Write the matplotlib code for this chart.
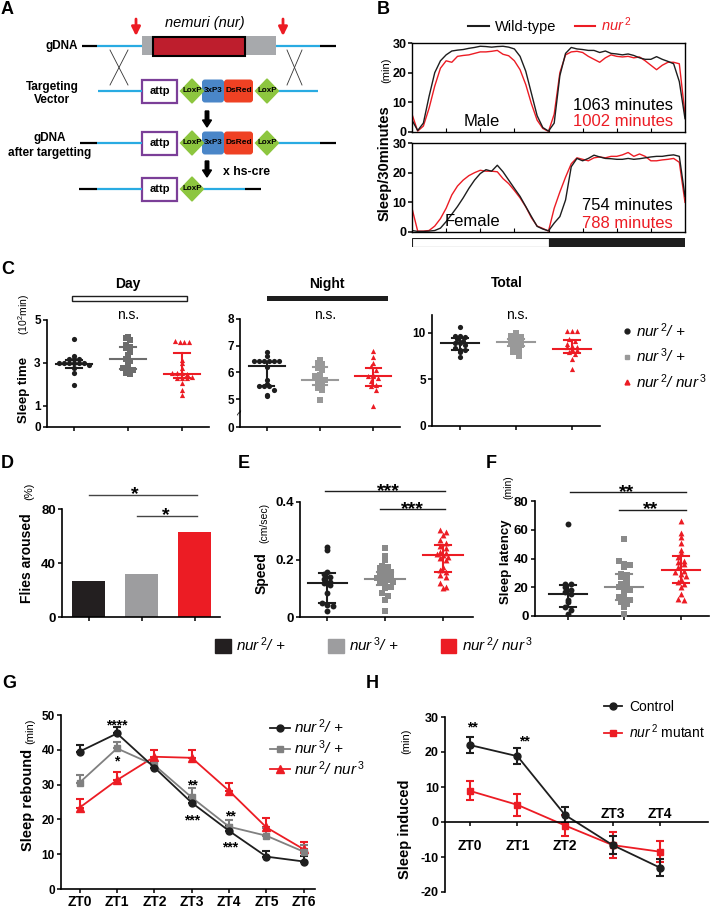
import matplotlib
matplotlib.use("Agg")
import matplotlib.pyplot as plt
from matplotlib.patches import Rectangle, Polygon, FancyBboxPatch, FancyArrow, Patch
from matplotlib.lines import Line2D
import numpy as np

plt.rcParams['font.family'] = ['Liberation Sans', 'DejaVu Sans']
plt.rcParams['mathtext.fontset'] = 'custom'
plt.rcParams['mathtext.rm'] = 'Liberation Sans'
plt.rcParams['mathtext.it'] = 'Liberation Sans:italic'
plt.rcParams['mathtext.bf'] = 'Liberation Sans:bold'
plt.rcParams['axes.linewidth'] = 1.2

W, H = 711, 908
BLACK = '#1e1e1e'
RED = '#ec1c24'
GREY_DARK = '#6d6d6d'
GREY = '#999999'

# ---------------- data ----------------
# B: sleep per 30 min, sampled every half hour over the 24 h day
hours = np.linspace(0, 24, 49)
male_wt = [4, 0.5, 3, 12, 20, 24, 26, 27.3, 27.6, 27.8, 28.2, 28.5, 28.9, 28.8, 28.6, 28.8,
           28.9, 28.6, 28, 25.5, 20.5, 13, 5.5, 1.5, 0.3, 3, 19, 26.5, 28.5, 28, 27.8, 27.5,
           27.5, 26.8, 27.3, 26.5, 26.3, 26, 26.3, 25.8, 25, 24.5, 24.5, 25.4, 24.5, 23.8,
           23, 17, 4.5]
male_nur2 = [6, 0.3, 2, 8, 15.5, 21.5, 24, 23.5, 25.5, 25.8, 26, 26.5, 27, 27, 27.2, 27.5,
             26.2, 25.7, 24, 21, 16, 9.5, 4, 1.2, 0.2, 6, 20, 26, 27, 27.2, 26.8, 25.5, 24.5,
             23.5, 25, 26, 25.5, 25.3, 25.5, 25, 25.3, 24, 22.5, 21, 22.5, 23.5, 23.5, 23, 6]
female_wt = [0.5, 0.2, 0.2, 0.3, 0.5, 1.3, 3.5, 6, 8.6, 11.5, 14.7, 17.5, 19.7, 21, 20.5,
             22.5, 20.3, 17.5, 14.7, 12, 8.6, 5.2, 1.9, 1, 0.4, 3, 5.2, 10.8, 22, 24.8, 24,
             24.8, 25.9, 25.3, 24.8, 24.7, 24.5, 24.5, 24.8, 24.5, 24.7, 25, 25.3, 25.5, 25.5,
             25.8, 26, 25.5, 12]
female_nur2 = [8, 0.3, 0.3, 0.5, 2, 4.5, 8, 12.5, 15.5, 17.5, 19, 20, 20.8, 20.5, 20.5, 20.3,
               18, 16.3, 14, 11.5, 8.5, 4.8, 2, 1.2, 0.3, 8, 13.5, 18.5, 23, 25, 24.5, 24, 25,
               25.3, 25, 25.5, 25.5, 26, 26.8, 25.5, 26.3, 25.5, 24, 24, 24.3, 24.5, 24.8,
               23.5, 10]
phase_start = [0, 12]
phase_len = [12, 12]

# C: sleep time (10^2 min)
day_nur2 = [4.13, 3.31, 3.17, 3.17, 3.17, 2.97, 2.97, 2.97, 2.97, 2.97, 2.97, 2.92, 2.74, 2.5, 1.96]
day_nur3 = [4.21, 4.14, 4.06, 3.82, 3.75, 3.67, 3.51, 3.36, 3.2, 3.08, 2.89, 2.74, 2.7, 2.66, 2.5, 2.46]
day_nur23 = [4.0, 3.95, 3.95, 3.95, 3.15, 2.97, 2.74, 2.5, 2.5, 2.5, 2.47, 2.35, 2.3, 2.27,
             2.27, 2.04, 1.72, 1.49]
day_med = [2.95, 3.17, 2.47]
day_lo = [2.74, 2.72, 2.27]
day_hi = [3.12, 3.72, 3.47]

night_nur2 = [6.76, 6.63, 6.41, 6.41, 6.41, 6.41, 6.41, 6.41, 6.2, 5.73, 5.55, 5.5, 5.5, 5.48,
              5.35, 5.16, 5.1]
night_nur3 = [6.48, 6.35, 6.3, 6.16, 6.1, 5.91, 5.85, 5.75, 5.73, 5.62, 5.54, 5.41, 5.35, 4.98]
night_nur23 = [6.79, 6.58, 6.35, 6.23, 6.1, 5.91, 5.88, 5.85, 5.8, 5.66, 5.54, 5.48, 5.35, 4.73]
night_med = [6.23, 5.73, 5.88]
night_lo = [5.48, 5.54, 5.5]
night_hi = [6.38, 6.2, 6.16]

total_nur2 = [10.6, 9.7, 9.65, 9.5, 9.3, 9.15, 8.9, 8.85, 8.65, 8.4, 8.15, 8.1, 7.95, 7.36]
total_nur3 = [10.0, 9.7, 9.65, 9.5, 9.35, 9.15, 9.05, 8.95, 8.85, 8.65, 8.45, 8.1, 7.9, 7.5]
total_nur23 = [10.2, 10.2, 10.2, 9.3, 9.1, 8.8, 8.6, 8.5, 8.45, 8.25, 8.1, 7.9, 7.7, 7.2, 6.06]
total_med = [8.94, 9.0, 8.3]
total_lo = [8.17, 8.6, 7.8]
total_hi = [9.47, 9.3, 9.2]

# D: flies aroused (%)
aroused = [27, 31.5, 63]

# E: speed (cm/sec)
speed_nur2 = [0.244, 0.233, 0.158, 0.15, 0.14, 0.132, 0.123, 0.117, 0.112, 0.083, 0.048,
              0.043, 0.037, 0.02]
speed_nur3 = [0.241, 0.212, 0.198, 0.178, 0.175, 0.169, 0.163, 0.158, 0.152, 0.146, 0.14,
              0.135, 0.132, 0.129, 0.123, 0.117, 0.112, 0.106, 0.1, 0.083, 0.072, 0.06, 0.02]
speed_nur23 = [0.304, 0.296, 0.285, 0.267, 0.256, 0.247, 0.239, 0.227, 0.221, 0.218, 0.216,
               0.21, 0.204, 0.198, 0.175, 0.164, 0.158, 0.146, 0.14, 0.118, 0.106, 0.1]
speed_med = [0.12, 0.133, 0.216]
speed_lo = [0.048, 0.112, 0.158]
speed_hi = [0.152, 0.158, 0.25]

# F: sleep latency (min)
lat_nur2 = [64, 22.6, 22, 20, 18, 16.8, 15.6, 11, 9.8, 6.3, 4.4, 1.6]
lat_nur3 = [53.5, 38.4, 36.5, 35.4, 34.2, 29.5, 28.4, 27.2, 24.9, 22.6, 21.4, 20.2, 19.1,
            17.9, 15.6, 13.3, 12.1, 10.9, 9.8, 8.6, 6.3, 1.6]
lat_nur23 = [66, 57.5, 55, 51, 45.8, 43.5, 41, 38.6, 37.4, 36.3, 34, 31.6, 30.5, 29.3, 28.1,
             25.8, 23.5, 22.3, 20, 15.6, 12, 11]
lat_med = [15.6, 20.2, 31.9]
lat_lo = [6.3, 10.9, 23]
lat_hi = [21.9, 29.5, 41.6]

# G: sleep rebound (min), mean and SEM
zt_g = ['ZT0', 'ZT1', 'ZT2', 'ZT3', 'ZT4', 'ZT5', 'ZT6']
reb_nur2 = [39.5, 44.7, 34.9, 24.8, 16.7, 9.3, 7.9]
reb_nur2_err = [1.9, 1.8, 1.5, 1.7, 1.7, 1.6, 1.7]
reb_nur3 = [30.6, 40.4, 35.6, 26.3, 17.9, 15.3, 10.7]
reb_nur3_err = [2.2, 1.9, 1.6, 2.6, 1.9, 2.1, 1.9]
reb_nur23 = [23.4, 31.3, 38.0, 37.7, 28.2, 17.7, 11.4]
reb_nur23_err = [2.4, 2.4, 1.9, 2.2, 2.2, 2.6, 2.2]

# H: sleep induced (min), mean and SEM
zt_h = ['ZT0', 'ZT1', 'ZT2', 'ZT3', 'ZT4']
ind_ctrl = [22.0, 18.8, 2.0, -6.6, -13.1]
ind_ctrl_err = [2.4, 2.3, 2.4, 2.6, 2.4]
ind_mut = [8.9, 4.9, -1.0, -6.6, -8.5]
ind_mut_err = [2.7, 3.2, 3.0, 3.8, 3.0]

# ---------------- figure ----------------
fig = plt.figure(figsize=(W / 100, H / 100), dpi=100)


def px_axes(x0, y0, x1, y1):
    return fig.add_axes([x0 / W, 1 - y1 / H, (x1 - x0) / W, (y1 - y0) / H])


def clean(ax, fs=9):
    ax.spines['top'].set_visible(False)
    ax.spines['right'].set_visible(False)
    ax.tick_params(width=1.1, length=3, labelsize=fs, pad=1.5)
    ax.patch.set_alpha(0)


def swarm_offsets(vals, ystep, dx):
    vals = np.asarray(vals, dtype=float)
    bins = np.floor(vals / ystep)
    out = np.zeros(len(vals))
    for b in np.unique(bins):
        idx = np.where(bins == b)[0]
        n = len(idx)
        out[idx] = (np.arange(n) - (n - 1) / 2) * dx
    return out


def dot_panel(ax, groups, med, lo, hi, colors, ystep, dx, ms=14):
    markers = ['o', 's', '^']
    for i, vals in enumerate(groups):
        c = colors[i]
        xs = i + swarm_offsets(vals, ystep, dx)
        ax.scatter(xs, vals, s=ms, c=c, marker=markers[i], linewidths=0, zorder=3)
        ax.plot([i - 0.34, i + 0.34], [med[i], med[i]], color=c, lw=1.5, zorder=4)
        ax.plot([i, i], [lo[i], hi[i]], color=c, lw=1.5, zorder=4)
        for v in (lo[i], hi[i]):
            ax.plot([i - 0.14, i + 0.14], [v, v], color=c, lw=1.5, zorder=4)
    ax.set_xticks([0, 1, 2])
    ax.set_xticklabels([])


# overlay for diagram, labels and annotations (pixel coordinates)
ov = fig.add_axes([0, 0, 1, 1])
ov.set_xlim(0, W)
ov.set_ylim(H, 0)
ov.axis('off')
ov.set_zorder(10)


def label(x, y, s, **kw):
    ov.text(x, y, s, **kw)


def stars(x, yc, s, size):
    em = size * 100 / 72
    ov.text(x, yc + 0.58 * em, s, ha='center', va='baseline', fontsize=size, fontweight='bold')


for letter, x, y in [('A', 1, 10), ('B', 377, 9), ('C', 1, 270), ('D', 1, 463), ('E', 238, 463),
                     ('F', 486, 463), ('G', 2, 684), ('H', 366, 684)]:
    label(x, y, letter, fontsize=13, fontweight='bold', ha='left', va='center')

# ---------------- A: targeting diagram ----------------
BLUE_LINE = '#29abe2'
PURPLE = '#7b3f98'
GREEN = '#8dc63f'
BOX_BLUE = '#4a86c8'
BOX_RED = '#ef4123'


def seg(x0, x1, y, color):
    ov.plot([x0, x1], [y, y], color=color, lw=1.6, solid_capstyle='butt')


def attp(y):
    ov.add_patch(Rectangle((142, y - 11.5), 35, 23, facecolor='white', edgecolor=PURPLE, lw=1.6))
    ov.text(159.5, y, 'attp', fontsize=8, fontweight='bold', ha='center', va='center')


def loxp(xc, y):
    ov.add_patch(Polygon([[xc - 11.5, y], [xc, y - 12], [xc + 11.5, y], [xc, y + 12]],
                         closed=True, color=GREEN, zorder=3))
    ov.text(xc, y, 'LoxP', fontsize=5.8, fontweight='bold', ha='center', va='center', zorder=4)


def cassette(y):
    ov.add_patch(FancyBboxPatch((202, y - 11.5), 22, 23, boxstyle='round,pad=0,rounding_size=3',
                                facecolor=BOX_BLUE, edgecolor='none'))
    ov.add_patch(FancyBboxPatch((224, y - 11.5), 29, 23, boxstyle='round,pad=0,rounding_size=3',
                                facecolor=BOX_RED, edgecolor='none'))
    ov.text(213, y, '3xP3', fontsize=5.8, fontweight='bold', ha='center', va='center')
    ov.text(238.5, y, 'DsRed', fontsize=6, fontweight='bold', ha='center', va='center')


# gDNA
seg(82, 97, 46, 'black')
seg(97, 142, 46, BLUE_LINE)
ov.add_patch(Rectangle((142, 36), 134, 19, facecolor='#a7a9ac', edgecolor='none'))
ov.add_patch(Rectangle((153, 37), 92, 19, facecolor='#be1e2d', edgecolor='black', lw=1.5))
seg(276, 320, 46, BLUE_LINE)
seg(320, 336, 46, 'black')
label(78, 46, 'gDNA', fontsize=8.5, fontweight='bold', ha='right', va='center')
label(205, 23, 'nemuri (nur)', fontsize=10.5, style='italic', ha='center', va='center')
for xa in (136, 283):
    ov.annotate('', xy=(xa, 36), xytext=(xa, 19),
                arrowprops=dict(arrowstyle='-|>', color=RED, lw=2, mutation_scale=13,
                                shrinkA=0, shrinkB=0))
for xa, xb in ((110, 128), (287, 302)):
    ov.plot([xa, xb], [50, 85], color='#333333', lw=0.6)
    ov.plot([xb, xa], [50, 85], color='#333333', lw=0.6)

# targeting vector
seg(98, 142, 91, BLUE_LINE)
attp(91)
loxp(192, 91)
cassette(91)
loxp(267, 91)
seg(278, 318, 91, BLUE_LINE)
label(52, 87, 'Targeting', fontsize=8.5, fontweight='bold', ha='center', va='center')
label(52, 100, 'Vector', fontsize=8.5, fontweight='bold', ha='center', va='center')

# after targeting
seg(80, 97, 143, 'black')
seg(97, 142, 143, BLUE_LINE)
attp(143)
loxp(192, 143)
cassette(143)
loxp(267, 143)
seg(278, 320, 143, BLUE_LINE)
seg(320, 336, 143, 'black')
label(50, 138, 'gDNA', fontsize=8.5, fontweight='bold', ha='center', va='center')
label(50, 153, 'after targetting', fontsize=8.5, fontweight='bold', ha='center', va='center')

for ya in (111, 161):
    ov.add_patch(FancyArrow(207, ya, 0, 16, width=3.5, head_width=9, head_length=7,
                            length_includes_head=True, color='black'))
label(223, 172, 'x hs-cre', fontsize=8.8, fontweight='bold', ha='left', va='center')

# after cre
seg(79, 97, 189, 'black')
seg(97, 142, 189, BLUE_LINE)
attp(189)
seg(200, 245, 189, BLUE_LINE)
seg(245, 261, 189, 'black')
loxp(192, 189)

# ---------------- B: sleep profiles ----------------
ax_m = px_axes(412, 43, 685, 132)
ax_f = px_axes(412, 143, 685, 232)
for ax, wt, mut in ((ax_m, male_wt, male_nur2), (ax_f, female_wt, female_nur2)):
    ax.plot(hours, mut, color=RED, lw=1)
    ax.plot(hours, wt, color=BLACK, lw=1)
    ax.set_xlim(0, 24)
    ax.set_ylim(0, 30)
    ax.set_xticks(np.arange(3, 24, 3))
    ax.tick_params(axis='x', direction='in', length=3, labelbottom=False)
    ax.set_yticks([0, 10, 20, 30], ['0', '10', '20', '30'], fontweight='bold', fontsize=9)
    ax.tick_params(axis='y', length=3, width=1.1, pad=1)
    for sp in ax.spines.values():
        sp.set_linewidth(1)

ax_ld = px_axes(412, 238, 685, 247)
ax_ld.barh([0, 0], phase_len, left=phase_start, height=1, color=['white', BLACK],
           edgecolor=BLACK, lw=0.8)
ax_ld.set_xlim(0, 24)
ax_ld.set_ylim(-0.5, 0.5)
ax_ld.axis('off')

label(482, 122, 'Male', fontsize=12, ha='center', va='center')
label(673, 105, '1063 minutes', fontsize=12, ha='right', va='center')
label(673, 122, '1002 minutes', fontsize=12, ha='right', va='center', color=RED)
label(472, 222, 'Female', fontsize=12, ha='center', va='center')
label(673, 205, '754 minutes', fontsize=12, ha='right', va='center')
label(673, 223, '788 minutes', fontsize=12, ha='right', va='center', color=RED)
label(385, 163, 'Sleep/30minutes', fontsize=10.5, fontweight='bold', rotation=90,
      ha='center', va='center')
label(386, 70, '(min)', fontsize=8, rotation=90, ha='center', va='center')

leg_b = fig.legend(handles=[Line2D([], [], color=BLACK, lw=1.5), Line2D([], [], color=RED, lw=1.5)],
                   labels=['Wild-type', r'$\it{nur}^{\,2}$'], loc='center',
                   bbox_to_anchor=(550 / W, 1 - 25 / H), ncol=2, frameon=False, fontsize=10.5,
                   handlelength=1.4, handletextpad=0.4, columnspacing=1.3)
leg_b.get_texts()[1].set_color(RED)

# ---------------- C: sleep time ----------------
ax_day = px_axes(47, 320, 209, 427)
dot_panel(ax_day, [day_nur2, day_nur3, day_nur23], day_med, day_lo, day_hi,
          [BLACK, GREY_DARK, RED], 0.23, 0.092)
ax_day.set_ylim(0, 5)
ax_day.set_yticks([0, 1, 3, 5], ['0', '1', '3', '5'], fontweight='bold')

ax_night = px_axes(240, 319, 400, 427)
dot_panel(ax_night, [night_nur2, night_nur3, night_nur23], night_med, night_lo, night_hi,
          [BLACK, GREY, RED], 0.19, 0.092)
ax_night.set_ylim(3.95, 8)
ax_night.set_yticks([3.95, 5, 6, 7, 8], ['0', '5', '6', '7', '8'], fontweight='bold')
ax_night.text(0, 4.47, '~', transform=ax_night.get_yaxis_transform(), rotation=60,
              ha='center', va='center', fontsize=9)

ax_tot = px_axes(432, 315, 600, 426)
dot_panel(ax_tot, [total_nur2, total_nur3, total_nur23], total_med, total_lo, total_hi,
          [BLACK, GREY, RED], 0.5, 0.09)
ax_tot.set_ylim(0, 11.9)
ax_tot.set_yticks([0, 5, 10], ['0', '5', '10'], fontweight='bold')

for ax in (ax_day, ax_night, ax_tot):
    clean(ax, 8.5)
    ax.set_xlim(-0.5, 2.5)

label(128, 284, 'Day', fontsize=10, fontweight='bold', ha='center', va='center')
label(327, 284, 'Night', fontsize=10, fontweight='bold', ha='center', va='center')
label(507, 283, 'Total', fontsize=10, fontweight='bold', ha='center', va='center')
ov.add_patch(Rectangle((72, 296), 115, 4.5, facecolor='white', edgecolor=BLACK, lw=1))
ov.add_patch(Rectangle((267, 295.5), 121, 5.5, facecolor=BLACK, edgecolor='none'))
for x in (128, 325, 517):
    label(x, 315, 'n.s.', fontsize=10, ha='center', va='center')
label(24, 390, 'Sleep time', fontsize=9.5, fontweight='bold', rotation=90, ha='center', va='center')
label(24, 315, r'(10$^2$min)', fontsize=7.5, rotation=90, ha='center', va='center')

fig.legend(handles=[Line2D([], [], ls='none', marker='o', color=BLACK, ms=3.5),
                    Line2D([], [], ls='none', marker='s', color=GREY, ms=3.5),
                    Line2D([], [], ls='none', marker='^', color=RED, ms=3.5)],
           labels=[r'$\it{nur}^{\,2}$/ +', r'$\it{nur}^{\,3}$/ +', r'$\it{nur}^{\,2}$/ $\it{nur}^{\,3}$'],
           loc='center left', bbox_to_anchor=(609 / W, 1 - 356 / H), frameon=False,
           prop=dict(style='italic', size=11), handlelength=0.6, handletextpad=0.3,
           labelspacing=0.45)

# ---------------- D: flies aroused ----------------
ax_d = px_axes(62, 509, 220, 617)
ax_d.bar([0, 1, 2], aroused, width=0.63, color=['#231f20', '#9d9d9f', RED])
ax_d.set_xlim(-0.5, 2.48)
ax_d.set_ylim(0, 80)
ax_d.set_xticks([0, 1, 2])
ax_d.set_xticklabels([])
ax_d.set_yticks([0, 40, 80], ['0', '40', '80'], fontweight='bold')
clean(ax_d, 9.5)
for x0, x1, y in ((0, 2.05, 90.6), (0.92, 2.05, 75)):
    ax_d.plot([x0, x1], [y, y], color='#444444', lw=1, clip_on=False)
stars(135, 488, '*', 14)
stars(166, 509, '*', 14)
label(27, 558, 'Flies aroused', fontsize=10, fontweight='bold', rotation=90, ha='center', va='center')
label(29, 491, '(%)', fontsize=8, rotation=90, ha='center', va='center')

# ---------------- E: speed ----------------
ax_e = px_axes(300, 502, 473, 617)
dot_panel(ax_e, [speed_nur2, speed_nur3, speed_nur23], speed_med, speed_lo, speed_hi,
          [BLACK, '#8a8a8a', RED], 0.017, 0.095, ms=18)
ax_e.set_xlim(-0.47, 2.52)
ax_e.set_ylim(0, 0.4)
ax_e.set_yticks([0, 0.2, 0.4], ['0', '0.2', '0.4'], fontweight='bold')
clean(ax_e, 9.5)
for x0, x1, y in ((-0.03, 2.03, 0.438), (0.91, 2.03, 0.376)):
    ax_e.plot([x0, x1], [y, y], color=BLACK, lw=1, clip_on=False)
stars(388, 485, '***', 14)
stars(412, 503, '***', 14)
label(262, 573, 'Speed', fontsize=10, fontweight='bold', rotation=90, ha='center', va='center')
label(264, 523, '(cm/sec)', fontsize=7.5, rotation=90, ha='center', va='center')

# ---------------- F: sleep latency ----------------
ax_fl = px_axes(535, 501, 709, 616)
dot_panel(ax_fl, [lat_nur2, lat_nur3, lat_nur23], lat_med, lat_lo, lat_hi,
          [BLACK, '#8a8a8a', RED], 3.5, 0.1, ms=18)
ax_fl.set_xlim(-0.58, 2.5)
ax_fl.set_ylim(0, 80)
ax_fl.set_yticks([0, 20, 40, 60, 80], ['0', '20', '40', '60', '80'], fontweight='bold')
clean(ax_fl, 9.5)
for x0, x1, y in ((0.04, 2.1, 86.3), (0.9, 2.1, 73.7)):
    ax_fl.plot([x0, x1], [y, y], color=BLACK, lw=1, clip_on=False)
stars(627, 486, '**', 14)
stars(651, 503, '**', 14)
label(506, 562, 'Sleep latency', fontsize=9.5, fontweight='bold', rotation=90, ha='center', va='center')
label(508, 487, '(min)', fontsize=7.5, rotation=90, ha='center', va='center')

fig.legend(handles=[Patch(color='#231f20'), Patch(color='#9d9d9f'), Patch(color=RED)],
           labels=[r'$\it{nur}^{\,2}$/ +', r'$\it{nur}^{\,3}$/ +', r'$\it{nur}^{\,2}$/ $\it{nur}^{\,3}$'],
           loc='center', bbox_to_anchor=(374 / W, 1 - 645 / H), ncol=3, frameon=False,
           prop=dict(style='italic', size=11), handlelength=1.0, handleheight=1.0,
           handletextpad=0.35, columnspacing=2.8)

# ---------------- G: sleep rebound ----------------
ax_g = px_axes(61, 715, 315, 889)
xg = np.arange(len(zt_g))
for vals, err, c, m, ms in ((reb_nur23, reb_nur23_err, RED, '^', 5.5),
                             (reb_nur3, reb_nur3_err, '#808080', 's', 5),
                             (reb_nur2, reb_nur2_err, BLACK, 'o', 5)):
    ax_g.errorbar(xg, vals, yerr=[np.zeros(len(err)), err], fmt='-' + m, color=c, ms=ms,
                  lw=1.3, elinewidth=1.5, capsize=3, capthick=1.5)
ax_g.set_xlim(-0.5, 6.3)
ax_g.set_ylim(0, 50)
ax_g.set_xticks(xg, zt_g, fontweight='bold', fontsize=10)
ax_g.set_yticks([0, 10, 20, 30, 40, 50], ['0', '10', '20', '30', '40', '50'], fontweight='bold')
clean(ax_g, 8.5)
ax_g.tick_params(axis='x', labelsize=10)
stars(117, 721, '****', 10)
stars(117, 757, '*', 10)
stars(192, 781, '**', 10)
stars(192, 816, '***', 10)
stars(230, 812, '**', 10)
stars(230, 843, '***', 10)
label(28, 800, 'Sleep rebound', fontsize=10.5, fontweight='bold', rotation=90, ha='center', va='center')
label(30, 731, '(min)', fontsize=8, rotation=90, ha='center', va='center')
ax_g.legend(handles=[Line2D([], [], color=BLACK, marker='o', ms=5, lw=1.3),
                     Line2D([], [], color='#808080', marker='s', ms=5, lw=1.3),
                     Line2D([], [], color=RED, marker='^', ms=5.5, lw=1.3)],
            labels=[r'$\it{nur}^{\,2}$/ +', r'$\it{nur}^{\,3}$/ +', r'$\it{nur}^{\,2}$/ $\it{nur}^{\,3}$'],
            loc='upper left', bbox_to_anchor=((262 - 61) / 254, 1.03), frameon=False,
            prop=dict(style='italic', size=11), handlelength=1.3, handletextpad=0.3,
            labelspacing=0.15, borderpad=0)

# ---------------- H: sleep induced ----------------
ax_h = px_axes(445, 717, 708, 892)
xh = np.arange(len(zt_h))
ax_h.errorbar(xh, ind_mut, yerr=ind_mut_err, fmt='-s', color=RED, ms=5, lw=1.3,
              elinewidth=1.5, capsize=3, capthick=1.5)
ax_h.errorbar(xh, ind_ctrl, yerr=ind_ctrl_err, fmt='-o', color=BLACK, ms=5, lw=1.3,
              elinewidth=1.5, capsize=3, capthick=1.5)
ax_h.set_xlim(-0.52, 5.0)
ax_h.set_ylim(-20, 30)
ax_h.spines['bottom'].set_position(('data', 0))
ax_h.set_xticks(xh)
ax_h.set_xticklabels([])
ax_h.set_yticks([-20, -10, 0, 10, 20, 30], ['-20', '-10', '0', '10', '20', '30'], fontweight='bold')
clean(ax_h, 9)
for i, lab in enumerate(zt_h):
    below = i < 3
    ax_h.text(i, -6.9 if below else 2.3, lab, ha='center', va='center', fontsize=10,
              fontweight='bold')
stars(472, 723, '**', 10)
stars(524, 737, '**', 10)
label(405, 829, 'Sleep induced', fontsize=10.5, fontweight='bold', rotation=90, ha='center', va='center')
label(406, 741, '(min)', fontsize=8, rotation=90, ha='center', va='center')
fig.legend(handles=[Line2D([], [], color=BLACK, marker='o', ms=5, lw=1.3),
                    Line2D([], [], color=RED, marker='s', ms=5, lw=1.3)],
           labels=['Control', r'$\it{nur}^{\,2}$ mutant'], loc='upper left',
           bbox_to_anchor=(597 / W, 1 - 693 / H), frameon=False, fontsize=10,
           handlelength=1.3, handletextpad=0.5, labelspacing=0.6, borderpad=0)

fig.savefig('out.png', dpi=100)
